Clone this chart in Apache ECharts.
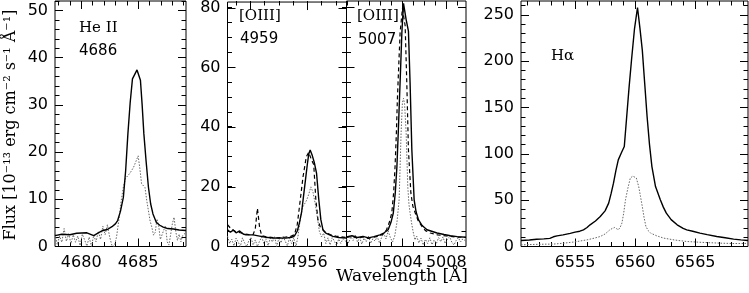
<!DOCTYPE html>
<html><head><meta charset="utf-8">
<script src="https://cdn.jsdelivr.net/npm/echarts@6/dist/echarts.min.js"></script>
<style>html,body{margin:0;padding:0;background:#fff}#c{width:749px;height:293px}</style>
</head><body><div id="c"></div>
<script>
// ---------- DATA (wavelength [Å], flux [1e-13 erg cm^-2 s^-1 Å^-1]) ----------
const heII_solid = [[4677.7,2.3],[4678.3,2.6],[4679.0,2.5],[4679.6,2.8],[4680.5,2.9],[4681.1,2.3],[4681.5,2.9],[4681.9,3.4],[4682.3,3.6],[4682.7,4.2],[4683.0,4.8],[4683.2,5.5],[4683.45,7.5],[4683.7,10.4],[4683.9,16.0],[4684.1,23.9],[4684.3,30.5],[4684.5,35.5],[4684.9,37.4],[4685.2,35.2],[4685.35,30.0],[4685.5,23.9],[4685.7,18.0],[4685.9,12.6],[4686.1,9.0],[4686.3,6.9],[4686.6,5.1],[4686.9,4.5],[4687.2,4.1],[4687.6,3.8],[4688.1,3.7],[4688.6,3.5],[4689.2,3.4]];
const heII_dotted = [[4677.7,2.6],[4677.9,0.4],[4678.1,2.2],[4678.3,0.9],[4678.5,3.8],[4678.7,1.1],[4678.9,2.7],[4679.1,0.6],[4679.3,2.5],[4679.5,0.9],[4679.7,2.2],[4679.9,0.2],[4680.1,2.6],[4680.3,1.4],[4680.5,0.1],[4680.7,2.0],[4680.9,0.0],[4681.1,2.4],[4681.3,1.0],[4681.5,3.2],[4681.7,1.5],[4681.9,4.3],[4682.1,2.5],[4682.3,4.6],[4682.5,2.0],[4682.7,0.2],[4682.9,0.0],[4683.1,2.0],[4683.3,5.5],[4683.5,9.5],[4683.7,12.6],[4683.9,14.5],[4684.1,15.0],[4684.3,15.6],[4684.45,15.4],[4684.6,16.8],[4684.8,18.0],[4685.0,19.2],[4685.15,16.5],[4685.3,13.3],[4685.45,13.0],[4685.6,12.5],[4685.75,9.8],[4685.9,7.6],[4686.05,5.4],[4686.2,4.1],[4686.35,2.4],[4686.5,3.0],[4686.65,5.8],[4686.8,4.4],[4686.95,1.5],[4687.1,1.2],[4687.25,3.5],[4687.4,4.4],[4687.55,1.0],[4687.7,0.3],[4687.85,2.5],[4688.0,4.8],[4688.15,6.2],[4688.3,3.2],[4688.45,1.3],[4688.6,2.6],[4688.75,1.0],[4688.9,2.3],[4689.2,3.0]];

const o4959_solid = [[4950.4,5.6],[4950.6,4.8],[4950.8,5.5],[4951.0,4.6],[4951.25,5.2],[4951.5,4.2],[4951.7,3.9],[4952.2,3.9],[4952.65,3.5],[4953.1,3.1],[4953.6,2.8],[4954.0,2.9],[4954.5,2.8],[4954.9,3.1],[4955.1,3.6],[4955.3,5.2],[4955.45,8.0],[4955.6,11.5],[4955.8,19.5],[4956.0,27.5],[4956.1,31.0],[4956.2,32.4],[4956.35,30.5],[4956.5,28.0],[4956.65,24.5],[4956.8,16.0],[4956.95,9.0],[4957.1,5.6],[4957.3,4.5],[4957.6,3.8],[4957.8,3.4],[4958.2,3.0],[4958.75,2.8]];
const o4959_dashed = [[4950.4,7.3],[4950.6,6.2],[4950.8,5.5],[4951.0,4.9],[4951.3,4.6],[4951.6,4.2],[4951.9,4.0],[4952.2,4.0],[4952.35,6.0],[4952.5,12.8],[4952.65,6.5],[4952.8,3.6],[4953.2,3.2],[4953.6,3.0],[4954.0,2.9],[4954.4,3.1],[4954.8,3.3],[4955.1,4.0],[4955.3,7.5],[4955.45,13.4],[4955.7,23.4],[4955.93,30.1],[4956.1,31.6],[4956.3,29.0],[4956.45,27.5],[4956.6,15.6],[4956.75,8.9],[4956.9,6.7],[4957.2,5.0],[4957.6,4.0],[4958.0,3.5],[4958.75,3.0]];
const o4959_dotted = [[4950.4,3.5],[4950.55,1.0],[4950.7,2.5],[4950.85,0.2],[4951.0,2.8],[4951.15,1.5],[4951.3,0.0],[4951.45,2.9],[4951.6,1.2],[4951.75,0.0],[4951.9,2.0],[4952.05,3.0],[4952.2,0.5],[4952.35,2.2],[4952.5,0.0],[4952.65,1.8],[4952.8,3.2],[4952.95,1.0],[4953.1,2.6],[4953.25,0.3],[4953.4,2.8],[4953.55,1.5],[4953.7,3.5],[4953.85,0.0],[4954.0,2.7],[4954.15,1.2],[4954.3,3.4],[4954.45,1.8],[4954.6,0.2],[4954.75,2.9],[4954.9,1.0],[4955.05,3.0],[4955.2,0.0],[4955.35,3.5],[4955.5,9.0],[4955.65,13.0],[4955.8,14.2],[4955.95,15.5],[4956.1,17.5],[4956.25,20.0],[4956.4,18.2],[4956.55,14.5],[4956.7,10.0],[4956.85,5.0],[4957.0,3.2],[4957.15,4.5],[4957.3,1.0],[4957.45,2.9],[4957.6,0.5],[4957.75,3.0],[4957.9,1.8],[4958.05,0.3],[4958.2,2.5],[4958.35,1.0],[4958.5,2.6],[4958.75,1.5]];

const o5007_solid = [[4998.9,3.2],[4999.4,3.6],[4999.9,3.0],[5000.4,3.4],[5000.9,2.9],[5001.4,3.3],[5001.95,3.9],[5002.3,4.5],[5002.7,5.6],[5002.95,8.0],[5003.17,11.2],[5003.35,18],[5003.5,26.8],[5003.62,38],[5003.73,49],[5003.85,61],[5003.95,71.4],[5004.1,81.2],[5004.34,75.8],[5004.55,71.9],[5004.7,54.6],[5004.86,32.3],[5005.07,15.6],[5005.25,11.5],[5005.47,8.9],[5005.8,7.0],[5006.24,5.6],[5007.16,4.5],[5007.8,4.0],[5008.38,3.6],[5009.0,3.3],[5009.8,3.1]];
const o5007_dashed = [[4998.9,3.0],[4999.4,3.4],[4999.9,2.8],[5000.4,3.2],[5000.9,2.7],[5001.4,3.1],[5001.95,3.6],[5002.3,4.3],[5002.55,5.6],[5002.8,8.0],[5003.03,11.2],[5003.2,18],[5003.33,26.8],[5003.45,38],[5003.54,49],[5003.66,60],[5003.79,71.4],[5004.0,79.5],[5004.25,73.8],[5004.4,54.6],[5004.55,32.3],[5004.77,17.9],[5004.95,13.5],[5005.17,11.2],[5005.45,8.5],[5005.78,6.7],[5006.1,5.3],[5006.54,4.5],[5007.2,3.9],[5008.0,3.5],[5008.8,3.2],[5009.8,3.0]];
const o5007_dotted = [[4998.9,2.5],[4999.1,1.2],[4999.3,3.3],[4999.5,2.0],[4999.7,3.8],[4999.9,1.5],[5000.1,3.0],[5000.3,0.8],[5000.5,2.8],[5000.7,1.6],[5000.9,3.5],[5001.1,1.0],[5001.3,2.6],[5001.5,1.8],[5001.7,3.4],[5001.9,1.2],[5002.1,3.0],[5002.3,4.5],[5002.5,2.5],[5002.7,5.2],[5002.9,3.0],[5003.1,1.5],[5003.3,3.5],[5003.5,8.0],[5003.7,15.6],[5003.88,38],[5004.0,48],[5004.1,49.5],[5004.2,47.5],[5004.34,38],[5004.49,20],[5004.6,14],[5004.7,11.2],[5004.85,7.5],[5005.0,4.5],[5005.15,2.2],[5005.3,3.5],[5005.5,1.2],[5005.7,2.8],[5005.9,0.5],[5006.1,2.4],[5006.3,1.0],[5006.5,2.9],[5006.7,0.6],[5006.9,2.2],[5007.1,1.0],[5007.3,3.0],[5007.5,1.6],[5007.7,3.2],[5007.9,1.0],[5008.1,2.4],[5008.3,3.3],[5008.5,1.5],[5008.7,0.5],[5008.9,2.0],[5009.1,3.0],[5009.3,1.5],[5009.5,2.5],[5009.8,1.8]];

const ha_solid = [[6550.5,6.5],[6551.2,7.0],[6551.8,7.8],[6552.4,8.2],[6552.9,8.8],[6553.2,10.5],[6553.5,11.5],[6554.0,12.5],[6554.6,14.2],[6555.0,15.5],[6555.4,16.5],[6555.7,18.0],[6556.0,20.5],[6556.25,23.4],[6556.7,27.5],[6557.1,32.4],[6557.5,38.5],[6557.8,46.8],[6558.0,57],[6558.2,68.4],[6558.4,82],[6558.6,93.5],[6558.85,101],[6559.1,108],[6559.3,140],[6559.5,172],[6559.7,201],[6559.95,235],[6560.2,258],[6560.4,236],[6560.6,212],[6560.8,176],[6561.0,140],[6561.2,110],[6561.4,86.3],[6561.7,64.7],[6562.1,50.4],[6562.35,42.5],[6562.6,36],[6563.0,29],[6563.5,23.4],[6564.0,19.5],[6564.3,18],[6564.8,16.5],[6565.4,14.4],[6566.0,12.8],[6566.8,10.8],[6567.5,9.4],[6568.2,8],[6568.8,7.2],[6569.4,6.5]];
const ha_dotted = [[6550.5,1.8],[6551.5,2.2],[6552.5,2.5],[6553.2,2.6],[6554.0,3.5],[6555.0,5.0],[6556.0,7.2],[6556.6,9.0],[6557.1,10.8],[6557.5,13.5],[6557.9,18.0],[6558.1,19.5],[6558.3,20.5],[6558.45,19.0],[6558.6,18.0],[6558.75,20.5],[6558.9,25.2],[6559.05,36],[6559.2,50.4],[6559.4,63],[6559.6,73.8],[6559.8,76],[6559.95,77.5],[6560.1,74],[6560.3,64.7],[6560.45,54],[6560.6,43],[6560.75,31],[6560.9,21.6],[6561.1,17],[6561.3,14.4],[6561.8,11.5],[6562.4,9.0],[6563.3,7.0],[6564.3,5.4],[6565.5,4.5],[6567.1,3.6],[6568.3,3.2],[6569.4,3.4]];

// tick labels
const x1Labels = [4680, 4685];
const x2Labels = [4952, 4956];
const x3Labels = [5004, 5008];
const x4Labels = [6555, 6560, 6565];
const y1Labels = [0, 10, 20, 30, 40, 50];
const y2Labels = [0, 20, 40, 60, 80];
const y4Labels = [0, 50, 100, 150, 200, 250];

const panelNames = [['He II', '4686'], ['[OIII]', '4959'], ['[OIII]', '5007'], ['H\u03b1', '']];
const yTitle = 'Flux [10\u207b\u00b9\u00b3 erg cm\u207b\u00b2 s\u207b\u00b9 \u00c5\u207b\u00b9]';
const xTitle = 'Wavelength [\u00c5]';

// ---------- LAYOUT ----------
function range(a, b, step) { const r = []; for (let v = a; v <= b + 1e-9; v += step) r.push(Math.round(v * 1000) / 1000); return r; }
const TOP = 1, HEIGHT = 245.5;
const panels = [
  { grid: { left: 55, width: 131 }, x: [4677.7, 4689.2], y: [0, 52], xMaj: x1Labels, xMin: range(4678, 4689, 1), xLab: x1Labels,
    yMaj: y1Labels, yMin: range(0, 52, 2), yLab: y1Labels,
    series: [{ d: heII_dotted, t: 'dotted' }, { d: heII_solid, t: 'solid' }] },
  { grid: { left: 227.5, width: 119 }, x: [4950.4, 4958.75], y: [0, 82], xMaj: x2Labels, xMin: range(4951, 4958, 1), xLab: x2Labels,
    yMaj: y2Labels, yMin: range(0, 80, 5), yLab: y2Labels,
    series: [{ d: o4959_dotted, t: 'dotted' }, { d: o4959_dashed, t: 'dashed' }, { d: o4959_solid, t: 'solid' }] },
  { grid: { left: 346.5, width: 119.5 }, x: [4998.9, 5009.8], y: [0, 82], xMaj: x3Labels, xMin: range(4999, 5009, 1), xLab: x3Labels,
    yMaj: y2Labels, yMin: range(0, 80, 5), yLab: [],
    series: [{ d: o5007_dotted, t: 'dotted' }, { d: o5007_dashed, t: 'dashed' }, { d: o5007_solid, t: 'solid' }] },
  { grid: { left: 521, width: 227 }, x: [6550.5, 6569.4], y: [0, 265], xMaj: x4Labels, xMin: range(6551, 6569, 1), xLab: x4Labels,
    yMaj: y4Labels, yMin: range(0, 260, 10), yLab: y4Labels,
    series: [{ d: ha_dotted, t: 'dotted' }, { d: ha_solid, t: 'solid' }] }
];

const NUMFONT = 'DejaVu Sans';
const SERIF = 'DejaVu Serif';
const grids = [], xAxes = [], yAxes = [], series = [];
const MAJ = 8, MIN = 4.5;

function axis(kind, gi, p, pos, ticks, len, labels) {
  const o = {
    type: 'value', gridIndex: gi, position: pos, offset: 0,
    min: kind === 'x' ? p.x[0] : p.y[0], max: kind === 'x' ? p.x[1] : p.y[1],
    axisLine: { show: false, onZero: false }, splitLine: { show: false }, minorTick: { show: false },
    axisTick: { show: true, inside: true, length: len, customValues: ticks, lineStyle: { color: '#000', width: 1 } },
    axisLabel: { show: false }
  };
  if (labels && labels.length) {
    o.axisLabel = { show: true, customValues: labels, color: '#000', fontFamily: NUMFONT, fontSize: 16,
      margin: kind === 'x' ? 8 : 7, formatter: v => String(v) };
  }
  return o;
}

const N = panels.length;
panels.forEach((p, gi) => {
  const gbox = { left: p.grid.left, width: p.grid.width, top: TOP, height: HEIGHT, containLabel: false };
  grids[gi] = Object.assign({ show: true, borderColor: '#000', borderWidth: 1, backgroundColor: 'transparent' }, gbox);
  grids[gi + N] = Object.assign({ show: false }, gbox); // twin grid carrying minor ticks
});
panels.forEach((p, gi) => {
  const xi = xAxes.length, yi = yAxes.length;
  xAxes.push(axis('x', gi, p, 'bottom', p.xMaj, MAJ, p.xLab));
  xAxes.push(axis('x', gi, p, 'top', p.xMaj, MAJ, null));
  yAxes.push(axis('y', gi, p, 'left', p.yMaj, MAJ, p.yLab));
  yAxes.push(axis('y', gi, p, 'right', p.yMaj, MAJ, null));
  p.series.forEach(s => {
    const st = s.t === 'solid' ? { color: '#000', width: 1.4, type: 'solid' }
      : s.t === 'dashed' ? { color: '#000', width: 1.2, type: [4, 3] }
      : { color: '#666', width: 1, type: [1.5, 1.5] };
    series.push({ type: 'line', xAxisIndex: xi, yAxisIndex: yi, data: s.d, showSymbol: false, symbol: 'none',
      lineStyle: st, silent: true, animation: false, z: s.t === 'solid' ? 4 : 3 });
  });
});
panels.forEach((p, gi) => {
  xAxes.push(axis('x', gi + N, p, 'bottom', p.xMin, MIN, null));
  xAxes.push(axis('x', gi + N, p, 'top', p.xMin, MIN, null));
  yAxes.push(axis('y', gi + N, p, 'left', p.yMin, MIN, null));
  yAxes.push(axis('y', gi + N, p, 'right', p.yMin, MIN, null));
});

const texts = [
  { x: 79, y: 30, t: panelNames[0][0], f: SERIF },
  { x: 79, y: 53, t: panelNames[0][1], f: NUMFONT },
  { x: 239, y: 18, t: panelNames[1][0], f: SERIF },
  { x: 240, y: 41, t: panelNames[1][1], f: NUMFONT },
  { x: 357, y: 18, t: panelNames[2][0], f: SERIF },
  { x: 358, y: 42, t: panelNames[2][1], f: NUMFONT },
  { x: 551, y: 58, t: panelNames[3][0], f: SERIF }
];
const graphic = texts.map(o => ({ type: 'text', left: o.x, top: o.y - 9, silent: true,
  style: { text: o.t, fill: '#000', font: '15px "' + o.f + '"' } }));
graphic.push({ type: 'text', x: 11, y: 125, rotation: Math.PI / 2, silent: true,
  style: { text: yTitle, fill: '#000', font: '16px "' + SERIF + '"', align: 'center', verticalAlign: 'middle' } });
graphic.push({ type: 'text', x: 402, y: 277, silent: true,
  style: { text: xTitle, fill: '#000', font: '17px "' + SERIF + '"', align: 'center', verticalAlign: 'middle' } });

const chart = echarts.init(document.getElementById('c'), null, { renderer: 'canvas' });
chart.setOption({ animation: false, backgroundColor: '#fff', grid: grids, xAxis: xAxes, yAxis: yAxes, series, graphic });
</script></body></html>
